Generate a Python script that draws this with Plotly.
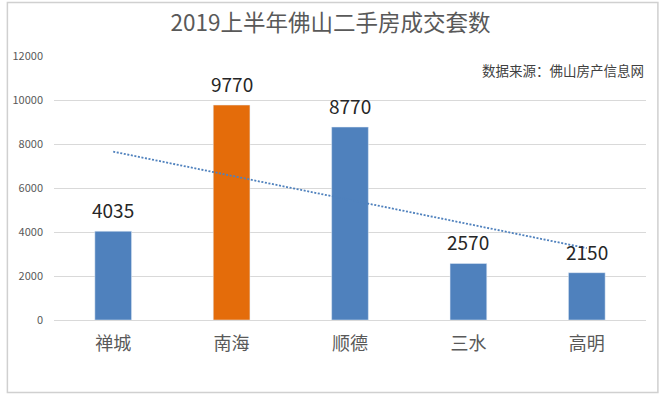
import numpy as np
import plotly.graph_objects as go

categories = ["禅城", "南海", "顺德", "三水", "高明"]
values = [4035, 9770, 8770, 2570, 2150]
bar_colors = ["#4F81BD", "#E46C0A", "#4F81BD", "#4F81BD", "#4F81BD"]
y_ticks = [0, 2000, 4000, 6000, 8000, 10000, 12000]
y_tick_labels = ["0", "2000", "4000", "6000", "8000", "10000", "12000"]

FONT = "Noto Sans CJK SC, Microsoft YaHei, sans-serif"

xi = np.arange(1, len(values) + 1)
slope, intercept = np.polyfit(xi, values, 1)
trend = slope * xi + intercept

fig = go.Figure()
fig.add_trace(go.Bar(
    x=categories, y=values, marker_color=bar_colors, width=0.31,
    hoverinfo="skip", showlegend=False,
))
fig.add_trace(go.Scatter(
    x=categories, y=trend, mode="lines",
    line=dict(color="#4F81BD", width=1.8, dash="2px,1.6px"),
    hoverinfo="skip", showlegend=False,
))
for c, v in zip(categories, values):
    fig.add_annotation(x=c, y=v, text=str(v), showarrow=False,
                       yanchor="bottom", yshift=6,
                       font=dict(family=FONT, size=19, color="#262626"))

fig.add_annotation(xref="paper", yref="paper", x=1.0, y=0.947,
                   xanchor="right", yanchor="middle", showarrow=False,
                   text="数据来源：佛山房产信息网",
                   font=dict(family=FONT, size=13.5, color="#404040"))

W, H = 661, 396
ml, mr, mt, mb = 49, 15, 56, 76
pw, ph = W - ml - mr, H - mt - mb
fig.add_shape(type="rect", xref="paper", yref="paper",
              x0=(2 - ml) / pw, x1=(W - 3 - ml) / pw,
              y0=-(mb - 3.5) / ph, y1=(H - 2.5 - mb) / ph,
              line=dict(color="#D0D0D0", width=1.5), fillcolor="rgba(0,0,0,0)",
              layer="above")

fig.update_layout(
    width=W, height=H,
    margin=dict(l=ml, r=mr, t=mt, b=mb),
    paper_bgcolor="white", plot_bgcolor="white",
    title=dict(text="2019上半年佛山二手房成交套数", x=0.5, xref="container",
               xanchor="center", y=1 - 23 / H, yref="container",
               yanchor="middle",
               font=dict(family=FONT, size=22.5, color="#595959")),
    bargap=0.69,
    xaxis=dict(showgrid=False, showline=True, linecolor="#D9D9D9", linewidth=1,
               ticks="", tickfont=dict(family=FONT, size=18, color="#595959"),
               ticklabelstandoff=7),
    yaxis=dict(range=[0, 12000], tickvals=y_ticks, ticktext=y_tick_labels,
               showgrid=True, gridcolor="#D9D9D9", gridwidth=1, zeroline=False,
               showline=False,
               tickfont=dict(family=FONT, size=11, color="#595959"),
               ticklabelstandoff=10),
)

fig.write_html("out.html", config={"displayModeBar": False},
               post_script="document.body.style.margin='0';")
